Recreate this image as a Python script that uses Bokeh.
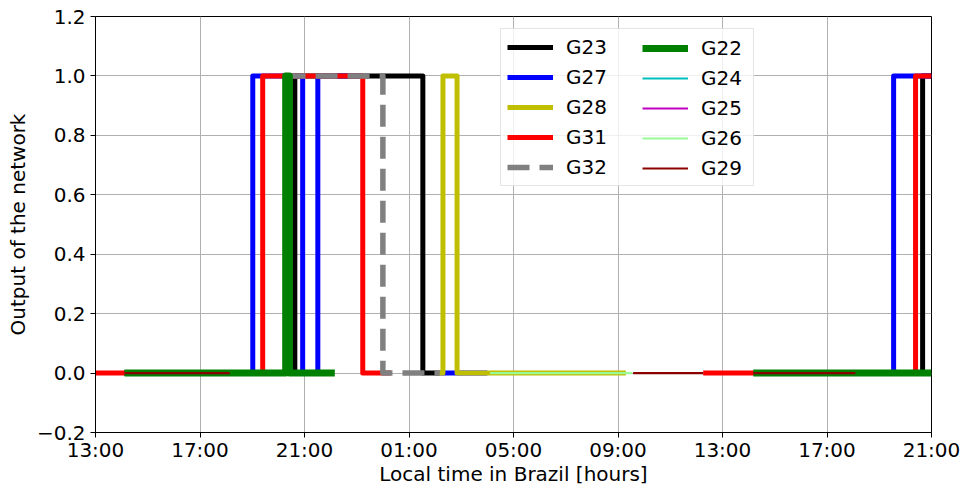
import math
from bokeh.plotting import figure
from bokeh.models import FixedTicker, Legend, LegendItem
from bokeh.embed import file_html
from bokeh.resources import INLINE

NaN = float("nan")

# x values: hours elapsed since 13:00 (local time) on the first day; None marks a data gap
x_ticks = [0, 4, 8, 12, 16, 20, 24, 28, 32]
x_tick_labels = ["13:00", "17:00", "21:00", "01:00", "05:00", "09:00", "13:00", "17:00", "21:00"]
y_ticks = [-0.2, 0.0, 0.2, 0.4, 0.6, 0.8, 1.0, 1.2]
y_tick_labels = ["\u22120.2", "0.0", "0.2", "0.4", "0.6", "0.8", "1.0", "1.2"]

series_names = ["G23", "G27", "G28", "G31", "G32", "G22", "G24", "G25", "G26", "G29"]

G23_t = [1.1, 7.63, 12.53, 13.2, None, 25.2, 31.66, 32.0]
G23_v = [0, 1, 0, 0, None, 0, 1, 1]

G27_t = [1.1, 6.02, 7.93, 8.51, 10.23, None, 13.2, 15.0, None, 25.2, 30.55, 32.0]
G27_v = [0, 1, 0, 1, 1, None, 0, 0, None, 0, 1, 1]

G28_t = [13.1, 13.30, 13.84, 20.3]
G28_v = [0, 1, 0, 0]

G31_t = [0.0, 6.40, 10.23, 11.3, None, 23.26, 31.39, 32.0]
G31_v = [0, 1, 0, 0, None, 0, 1, 1]

G32_t = [7.2, 11.0, 13.18]
G32_v = [1, 0, 0]

G22_t = [1.11, 7.28, 7.42, 9.16, None, 25.18, 32.0]
G22_v = [0, 1, 0, 0, None, 0, 0]

G24_t = []
G24_v = []

G25_t = []
G25_v = []

G26_t = [15.1, 20.54]
G26_v = [0, 0]

G29_t = [1.11, 5.14, None, 20.58, 23.26, None, 25.18, 29.09]
G29_v = [0, 0, None, 0, 0, None, 0, 0]

styles = {
    "G23": dict(color="black", width=5, dash="solid"),
    "G27": dict(color="#0000ff", width=5, dash="solid"),
    "G28": dict(color="#bfbf00", width=5, dash="solid"),
    "G31": dict(color="#ff0000", width=5, dash="solid"),
    "G32": dict(color="#808080", width=5.5, dash="22 10"),
    "G22": dict(color="#008000", width=7, dash="solid"),
    "G24": dict(color="#00bfbf", width=2.2, dash="solid"),
    "G25": dict(color="#bf00bf", width=2.2, dash="solid"),
    "G26": dict(color="#98fb98", width=2.2, dash="solid"),
    "G29": dict(color="#8b0000", width=2.2, dash="solid"),
}

data = {
    "G23": (G23_t, G23_v), "G27": (G27_t, G27_v), "G28": (G28_t, G28_v),
    "G31": (G31_t, G31_v), "G32": (G32_t, G32_v), "G22": (G22_t, G22_v),
    "G24": (G24_t, G24_v), "G25": (G25_t, G25_v), "G26": (G26_t, G26_v),
    "G29": (G29_t, G29_v),
}


def step_xy(ts, vs):
    xs, ys = [], []
    seg = []
    for t, v in list(zip(ts, vs)) + [(None, None)]:
        if t is None:
            for i, (a, b) in enumerate(seg):
                if i > 0:
                    xs.append(a)
                    ys.append(seg[i - 1][1])
                xs.append(a)
                ys.append(b)
            if seg:
                xs.append(NaN)
                ys.append(NaN)
            seg = []
        else:
            seg.append((t, v))
    if not xs:
        xs, ys = [NaN], [NaN]
    return xs, ys


FONT = "DejaVu Sans"
FS = "20px"

p = figure(width=963, height=488, x_range=(0, 32), y_range=(-0.2, 1.2),
           output_backend="svg", toolbar_location=None,
           min_border_left=95, min_border_right=32, min_border_top=16, min_border_bottom=55)

items = []
for name in series_names:
    t, v = data[name]
    xs, ys = step_xy(t, v)
    st = styles[name]
    r = p.line(xs, ys, line_color=st["color"], line_width=st["width"],
               line_dash=st["dash"], line_join="round", line_cap="butt")
    items.append(LegendItem(label=name, renderers=[r]))

common = dict(label_text_font=FONT, label_text_font_size=FS, label_text_color="black",
              glyph_width=46, glyph_height=22, label_standoff=13, label_height=22,
              spacing=6, padding=6, margin=0, orientation="vertical")

# box + first column
legend1 = Legend(items=items[:5], location=(405, 246), label_width=181,
                 border_line_color="#cccccc", border_line_width=1,
                 background_fill_color="white", background_fill_alpha=0.8, **common)
# second column, drawn inside the first box
legend2 = Legend(items=items[5:], location=(547, 252), label_width=40,
                 border_line_color=None, background_fill_alpha=0.0, **common)
p.add_layout(legend1)
p.add_layout(legend2)

p.xaxis.ticker = FixedTicker(ticks=x_ticks)
p.xaxis.major_label_overrides = {t: lab for t, lab in zip(x_ticks, x_tick_labels)}
p.yaxis.ticker = FixedTicker(ticks=y_ticks)
p.yaxis.major_label_overrides = {t: lab for t, lab in zip(y_ticks, y_tick_labels)}

p.xaxis.axis_label = "Local time in Brazil [hours]"
p.yaxis.axis_label = "Output of the network"
for ax in (p.xaxis, p.yaxis):
    ax.axis_label_text_font = FONT
    ax.axis_label_text_font_size = FS
    ax.axis_label_text_font_style = "normal"
    ax.axis_label_text_color = "black"
    ax.major_label_text_font = FONT
    ax.major_label_text_font_size = FS
    ax.major_label_text_color = "black"
    ax.minor_tick_line_color = None
    ax.major_tick_in = 0
    ax.major_tick_out = 5
    ax.major_tick_line_color = "black"
    ax.axis_line_color = "black"
p.xaxis.major_label_standoff = 0
p.yaxis.major_label_standoff = 5
p.xaxis.axis_label_standoff = -3
p.yaxis.axis_label_standoff = 4

p.grid.grid_line_color = "#b0b0b0"
p.grid.grid_line_width = 1
p.outline_line_color = "black"
p.outline_line_width = 1
p.background_fill_color = "white"
p.border_fill_color = "white"

open("out.html", "w").write(file_html(p, INLINE))
